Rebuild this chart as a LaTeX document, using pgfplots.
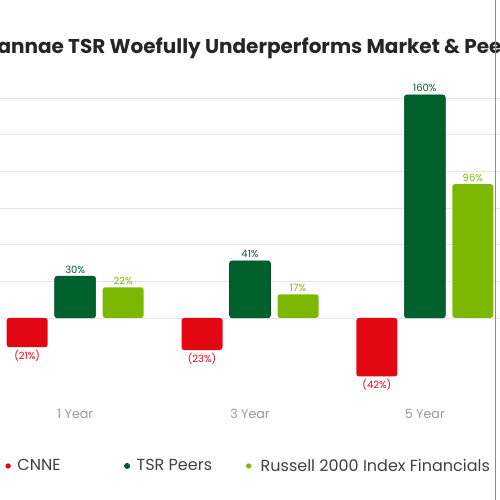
\documentclass[border=0pt]{standalone}
\usepackage{pgfplots}
\pgfplotsset{compat=1.18}
\usepackage{fontspec}
\setmainfont{Poppins}
\definecolor{cnne}{HTML}{E30613}
\definecolor{peers}{HTML}{00612E}
\definecolor{russell}{HTML}{7DB800}
\definecolor{gridc}{HTML}{E6E6E6}

\begin{document}
\begin{tikzpicture}
\begin{axis}[
    scale only axis, width=375pt, height=375pt,
    xmin=-0.43, xmax=2.43, ymin=-130.6, ymax=228.1,
    axis line style={draw=none},
    xtick=\empty,
    ytick={0,26.3,52.6,78.9,105.2,131.5,157.8},
    yticklabels={}, major tick length=0pt,
    ymajorgrids, grid style={gridc, line width=0.6pt},
    ybar=5.25pt, bar width=30.75pt,
    point meta=explicit symbolic,
    nodes near coords={\pgfplotspointmeta\%},
    every node near coord/.append style={font=\fontsize{7.5}{8}\selectfont, inner sep=2pt},
    clip=false,
    legend columns=3,
    legend style={draw=none, fill=none, at={(axis cs:-0.423,-106.2)}, anchor=west,
        font=\fontsize{12}{13}\selectfont, text=black!75,
        /tikz/every even column/.append style={column sep=0pt}},
    legend image code/.code={\fill (0,0) circle (2pt);},
]
\coordinate (bl) at (rel axis cs:0,0);
\coordinate (tr) at (rel axis cs:1,1);

% CNNE
\addplot[fill=cnne, draw=none, rounded corners=2pt,
    nodes near coords={(\pgfplotspointmeta\%)},
    nodes near coords align=below,
    every node near coord/.append style={text=cnne}] coordinates {
    (0,-21) [21]
    (1,-23) [23]
    (2,-42) [42]
};
% TSR Peers
\addplot[fill=peers, draw=peers!80!black, rounded corners=2pt,
    every node near coord/.append style={text=peers}] coordinates {
    (0,30) [30]
    (1,41) [41]
    (2,160) [160]
};
% Russell 2000 Index Financials
\addplot[fill=russell, draw=none, rounded corners=2pt,
    every node near coord/.append style={text=russell}] coordinates {
    (0,22) [22]
    (1,17) [17]
    (2,96) [96]
};
\addlegendentry{\hspace{3pt}\makebox[78pt][l]{CNNE}}
\addlegendentry{\hspace{3pt}\makebox[80pt][l]{TSR Peers}}
\addlegendentry{\hspace{5pt}Russell 2000 Index Financials}

\node[font=\bfseries\fontsize{15}{18}\selectfont, text=black!85]
    at (axis cs:1.01,193.7) {Cannae TSR Woefully Underperforms Market \& Peers};
\node[text=black!40, font=\fontsize{9.5}{10}\selectfont] at (axis cs:0,-68.9) {1 Year};
\node[text=black!40, font=\fontsize{9.5}{10}\selectfont] at (axis cs:1,-68.9) {3 Year};
\node[text=black!40, font=\fontsize{9.5}{10}\selectfont] at (axis cs:2,-68.9) {5 Year};
\draw[black!45, line width=0.75pt] (axis cs:2.404,228.1) -- (axis cs:2.404,-130.6);
\end{axis}
\pgfresetboundingbox
\useasboundingbox (bl) rectangle (tr);
\end{tikzpicture}
\end{document}
